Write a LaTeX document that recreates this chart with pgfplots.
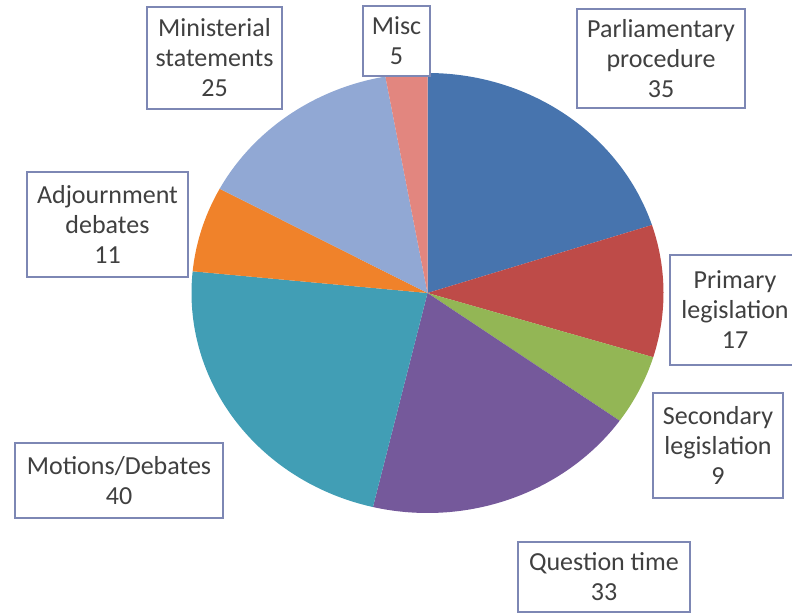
\documentclass[border=0pt]{standalone}
\usepackage{pgfplots}
\pgfplotsset{compat=1.18}
\usepackage{fontspec}
\setmainfont{Carlito}
\definecolor{cA}{HTML}{4774AE}
\definecolor{cB}{HTML}{BE4B48}
\definecolor{cC}{HTML}{93B655}
\definecolor{cD}{HTML}{75599B}
\definecolor{cE}{HTML}{419EB5}
\definecolor{cF}{HTML}{F0822A}
\definecolor{cG}{HTML}{91A8D4}
\definecolor{cH}{HTML}{E2867F}
\definecolor{boxc}{RGB}{125,135,180}
\definecolor{txt}{HTML}{404040}
% values
\def\vA{35}\def\vB{17}\def\vC{9}\def\vD{33}\def\vE{40}\def\vF{11}\def\vG{25}\def\vH{5}
\pgfmathsetmacro{\tot}{\vA+\vB+\vC+\vD+\vE+\vF+\vG+\vH}
\pgfmathsetmacro{\aA}{90}
\pgfmathsetmacro{\aB}{\aA-360*\vA/\tot}
\pgfmathsetmacro{\aC}{\aB-360*\vB/\tot}
\pgfmathsetmacro{\aD}{\aC-360*\vC/\tot}
\pgfmathsetmacro{\aE}{\aD-360*\vD/\tot}
\pgfmathsetmacro{\aF}{\aE-360*\vE/\tot}
\pgfmathsetmacro{\aG}{\aF-360*\vF/\tot}
\pgfmathsetmacro{\aH}{\aG-360*\vG/\tot}
\pgfmathsetmacro{\aI}{\aH-360*\vH/\tot}
\def\cx{427.5}\def\cy{322}\def\rx{236}\def\ry{220}
\begin{document}
\begin{tikzpicture}
\useasboundingbox (0,0) rectangle (396pt,307.5pt);
\begin{axis}[at={(0,0)}, anchor=south west, scale only axis,
  width=396pt, height=307.5pt, xmin=0, xmax=792, ymin=0, ymax=615,
  hide axis, clip=false]
\addplot[fill=cA, draw=none, domain=\aB:\aA, samples=80] ({\cx+\rx*cos(x)},{\cy+\ry*sin(x)}) -- (axis cs:\cx,\cy) -- cycle;
\addplot[fill=cB, draw=none, domain=\aC:\aB, samples=50] ({\cx+\rx*cos(x)},{\cy+\ry*sin(x)}) -- (axis cs:\cx,\cy) -- cycle;
\addplot[fill=cC, draw=none, domain=\aD:\aC, samples=30] ({\cx+\rx*cos(x)},{\cy+\ry*sin(x)}) -- (axis cs:\cx,\cy) -- cycle;
\addplot[fill=cD, draw=none, domain=\aE:\aD, samples=80] ({\cx+\rx*cos(x)},{\cy+\ry*sin(x)}) -- (axis cs:\cx,\cy) -- cycle;
\addplot[fill=cE, draw=none, domain=\aF:\aE, samples=90] ({\cx+\rx*cos(x)},{\cy+\ry*sin(x)}) -- (axis cs:\cx,\cy) -- cycle;
\addplot[fill=cF, draw=none, domain=\aG:\aF, samples=30] ({\cx+\rx*cos(x)},{\cy+\ry*sin(x)}) -- (axis cs:\cx,\cy) -- cycle;
\addplot[fill=cG, draw=none, domain=\aH:\aG, samples=60] ({\cx+\rx*cos(x)},{\cy+\ry*sin(x)}) -- (axis cs:\cx,\cy) -- cycle;
\addplot[fill=cH, draw=none, domain=\aI:\aH, samples=20] ({\cx+\rx*cos(x)},{\cy+\ry*sin(x)}) -- (axis cs:\cx,\cy) -- cycle;
\tikzset{lbl/.style={draw=boxc, line width=1pt, fill=white, text=txt, align=center,
  font=\fontsize{13}{15}\selectfont, inner sep=0pt}}
\node[lbl, minimum width=67.5pt, minimum height=51pt] at (axis cs:214.5,557) {Ministerial\\statements\\25};
\node[lbl, minimum width=33.5pt, minimum height=35pt] at (axis cs:396.5,574) {Misc\\5};
\node[lbl, minimum width=84pt, minimum height=49.5pt] at (axis cs:661,556) {Parliamentary\\procedure\\35};
\node[lbl, minimum width=65.5pt, minimum height=55pt] at (axis cs:735,305) {Primary\\legislation\\17};
\node[lbl, minimum width=65pt, minimum height=52.5pt] at (axis cs:718,169.5) {Secondary\\legislation\\9};
\node[lbl, minimum width=86pt, minimum height=35pt] at (axis cs:604,38) {Question time\\33};
\node[lbl, minimum width=104pt, minimum height=37.5pt] at (axis cs:119,134.5) {Motions/Debates\\40};
\node[lbl, minimum width=80.5pt, minimum height=52.5pt] at (axis cs:107.5,390.5) {Adjournment\\debates\\11};
\end{axis}
\end{tikzpicture}
\end{document}
